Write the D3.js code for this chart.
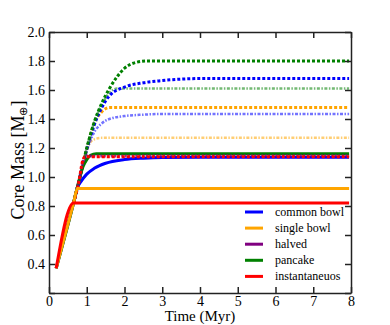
<!doctype html>
<html>
<head>
<meta charset="utf-8">
<script src="https://d3js.org/d3.v7.min.js"></script>
<style>
  body { margin: 0; background: #fff; }
  svg text { font-family: "Liberation Serif", "Times New Roman", Times, serif; }
</style>
</head>
<body>
<svg width="390" height="325"></svg>
<script>
// tick values
var xTicks = [0, 1, 2, 3, 4, 5, 6, 7, 8];
var yTicks = [0.2, 0.4, 0.6, 0.8, 1.0, 1.2, 1.4, 1.6, 1.8, 2.0];

// curves: [time (Myr), core mass]
var blueSolid   = [[0.19,0.37],[0.65,0.82],[0.76,0.93],[0.85,0.97],[1.0,1.02],[1.2,1.06],[1.5,1.095],[2.0,1.12],[2.5,1.13],[3.0,1.135],[4.0,1.137],[7.95,1.137]];
var blueDot     = [[0.65,0.82],[0.8,0.98],[1.0,1.19],[1.2,1.36],[1.4,1.48],[1.6,1.56],[2.0,1.62],[2.5,1.65],[3.0,1.665],[3.5,1.675],[4.2,1.68],[7.95,1.68]];
var blueDash    = [[0.65,0.82],[0.8,0.98],[1.0,1.18],[1.2,1.31],[1.4,1.37],[1.6,1.40],[2.0,1.42],[2.5,1.43],[3.0,1.435],[7.95,1.435]];
var orangeSolid = [[0.19,0.37],[0.65,0.82],[0.75,0.92],[7.95,0.92]];
var orangeDot   = [[0.65,0.82],[0.8,0.98],[1.0,1.19],[1.2,1.37],[1.4,1.45],[1.6,1.48],[7.95,1.48]];
var orangeDash  = [[0.65,0.82],[0.8,0.98],[0.95,1.15],[1.05,1.22],[1.2,1.26],[1.4,1.27],[7.95,1.27]];
var purpleDot   = [[0.65,0.82],[0.8,0.98],[0.9,1.10],[1.0,1.145],[7.95,1.147]];
var greenSolid  = [[0.19,0.37],[0.65,0.82],[0.8,0.98],[0.9,1.07],[1.0,1.12],[1.1,1.15],[1.25,1.16],[7.95,1.16]];
var greenDot    = [[0.65,0.82],[0.8,0.98],[1.0,1.20],[1.2,1.38],[1.4,1.51],[1.6,1.61],[1.8,1.69],[2.0,1.75],[2.3,1.79],[2.6,1.80],[7.95,1.80]];
var greenDash   = [[0.65,0.82],[0.8,0.98],[1.0,1.20],[1.2,1.38],[1.4,1.50],[1.6,1.58],[1.8,1.61],[7.95,1.61]];
var redSolid    = [[0.19,0.37],[0.65,0.82],[7.95,0.82]];
var redDot      = [[0.65,0.82],[0.8,0.98],[0.88,1.10],[0.95,1.14],[7.95,1.14]];

var legendNames  = ["common bowl", "single bowl", "halved", "pancake", "instantaneuos"];
var legendColors = ["#0000ff", "#ffa500", "#800080", "#008000", "#ff0000"];

var svg = d3.select("svg");
var pLeft = 49, pRight = 351, pTop = 32, pBottom = 293;
var serif = "'Liberation Serif', 'Times New Roman', Times, serif";

var x = d3.scaleLinear().domain([0, 8]).range([pLeft, pRight]);
var y = d3.scaleLinear().domain([0.2, 2.0]).range([pBottom, pTop]);

var line = d3.line()
    .x(function(d) { return x(d[0]); })
    .y(function(d) { return y(d[1]); })
    .curve(d3.curveMonotoneX);

// dash styles: solid, dense dots, light dash-dot
var dotStyle  = { w: 3, dash: "3,2", op: 1 };
var dashStyle = { w: 2.5, dash: "1.5,1.5,3,1.5", op: 0.55 };
var solid     = { w: 3, dash: null, op: 1 };

var curves = [
    [orangeDash, "#ffa500", dashStyle],
    [blueDash, "#0000ff", dashStyle],
    [greenDash, "#008000", dashStyle],
    [orangeDot, "#ffa500", dotStyle],
    [blueDot, "#0000ff", dotStyle],
    [greenDot, "#008000", dotStyle],
    [blueSolid, "#0000ff", solid],
    [greenSolid, "#008000", solid],
    [purpleDot, "#800080", { w: 3, dash: "2,1.5", op: 0.8 }],
    [redDot, "#ff0000", dotStyle],
    [orangeSolid, "#ffa500", solid],
    [redSolid, "#ff0000", solid]
];

var g = svg.append("g");
curves.forEach(function(c) {
    g.append("path")
        .attr("d", line(c[0]))
        .attr("fill", "none")
        .attr("stroke", c[1])
        .attr("stroke-width", c[2].w)
        .attr("stroke-dasharray", c[2].dash)
        .attr("stroke-opacity", c[2].op);
});

// axes with inward ticks on all sides
var tl = 6;
svg.append("g").attr("transform", "translate(0," + pBottom + ")")
    .call(d3.axisBottom(x).tickValues(xTicks).tickSizeInner(-tl).tickSizeOuter(0).tickPadding(3)
        .tickFormat(d3.format("d")));
svg.append("g").attr("transform", "translate(0," + pTop + ")")
    .call(d3.axisTop(x).tickValues(xTicks).tickSizeInner(-tl).tickSizeOuter(0).tickFormat(""));
svg.append("g").attr("transform", "translate(" + pLeft + ",0)")
    .call(d3.axisLeft(y).tickValues(yTicks).tickSizeInner(-tl).tickSizeOuter(0).tickPadding(4)
        .tickFormat(function(d) { return d < 0.3 ? "" : d3.format(".1f")(d); }));
svg.append("g").attr("transform", "translate(" + pRight + ",0)")
    .call(d3.axisRight(y).tickValues(yTicks).tickSizeInner(-tl).tickSizeOuter(0).tickFormat(""));

svg.selectAll("g").attr("font-family", serif);
svg.selectAll(".domain").attr("stroke", "#222").attr("stroke-width", 1.5);
svg.selectAll(".tick line").attr("stroke", "#222").attr("stroke-width", 1.5);
svg.selectAll(".tick text").attr("font-size", 14).attr("fill", "#000");

svg.append("text")
    .attr("x", (pLeft + pRight) / 2).attr("y", 321)
    .attr("text-anchor", "middle").attr("font-size", 15)
    .attr("font-family", serif)
    .text("Time (Myr)");

var yl = svg.append("text")
    .attr("transform", "translate(24," + 160 + ") rotate(-90)")
    .attr("text-anchor", "middle").attr("font-size", 18)
    .attr("font-family", serif);
yl.append("tspan").text("Core Mass [M");
yl.append("tspan").attr("font-size", 11).attr("dy", 3).text("\u2295");
yl.append("tspan").attr("dy", -3).text("]");

// legend
var lg = svg.append("g");
legendNames.forEach(function(name, i) {
    var ly = 212 + i * 16.1;
    lg.append("line").attr("x1", 245).attr("x2", 263).attr("y1", ly).attr("y2", ly)
        .attr("stroke", legendColors[i]).attr("stroke-width", 3);
    lg.append("text").attr("x", 275).attr("y", ly + 4).attr("font-size", 12)
        .attr("font-family", serif).text(name);
});
</script>
</body>
</html>
